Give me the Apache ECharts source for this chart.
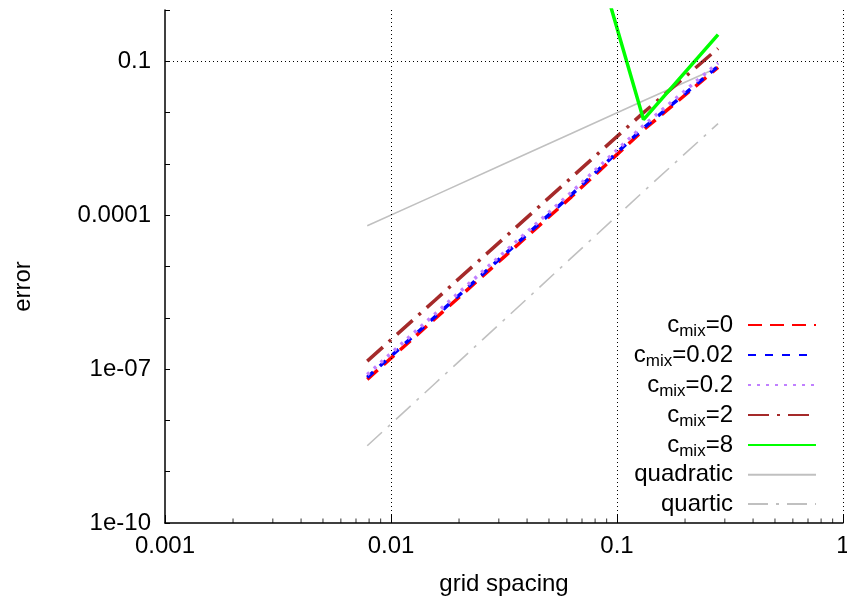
<!DOCTYPE html>
<html>
<head>
<meta charset="utf-8">
<script src="https://cdn.jsdelivr.net/npm/echarts@6/dist/echarts.min.js"></script>
<style>
html,body{margin:0;padding:0;background:#fff;}
#chart{width:847px;height:605px;}
</style>
</head>
<body>
<div id="chart"></div>
<script>
// ---- data ----
const gridSpacing = [0.00785, 0.0157, 0.0314, 0.0628, 0.131, 0.28];
const cmix0   = [6.3e-8, 9.7e-7, 1.49e-5, 2.28e-4, 4.6e-3, 0.076];
const cmix002 = [6.9e-8, 1.06e-6, 1.63e-5, 2.5e-4, 5.0e-3, 0.080];
const cmix02  = [7.8e-8, 1.2e-6, 1.83e-5, 2.8e-4, 5.6e-3, 0.093];
const cmix2   = [1.43e-7, 2.23e-6, 3.47e-5, 5.4e-4, 1.0e-2, 0.178];
const cmix8   = [null, null, null, 522, 7.3e-3, 0.33];
const quadratic = [6.2e-5, 2.46e-4, 9.8e-4, 3.9e-3, 0.0171, 0.076];
const quartic   = [3.2e-9, 5.3e-8, 8.8e-7, 1.47e-5, 2.9e-4, 6.1e-3];

const seriesNames = ['c_mix=0', 'c_mix=0.02', 'c_mix=0.2', 'c_mix=2', 'c_mix=8', 'quadratic', 'quartic'];

const xTickValues = [0.001, 0.01, 0.1, 1];
const xTickLabels = ['0.001', '0.01', '0.1', '1'];
const xMinorTicks = [0.002,0.003,0.004,0.005,0.006,0.007,0.008,0.009,
                     0.02,0.03,0.04,0.05,0.06,0.07,0.08,0.09,
                     0.2,0.3,0.4,0.5,0.6,0.7,0.8,0.9];
const yTickValues = [1e-10, 1e-7, 1e-4, 0.1];
const yTickLabels = ['1e-10', '1e-07', '0.0001', '0.1'];
const xGridValues = [0.01, 0.1, 1];
const yGridValues = [1e-7, 1e-4, 0.1];

// ---- chart ----
const FONT = '"Liberation Sans", Arial, Helvetica, sans-serif';
const FS = 24;
const xMin = 0.001, xMax = 1, yMin = 1e-10, yMax = 1;

function pairs(ys) {
  const out = [];
  ys.forEach((y, i) => { if (y != null) out.push([gridSpacing[i], y]); });
  return out;
}
function expOf(v) { return Math.round(Math.log10(v)); }

const styles = [
  {color: '#ff0000', width: 3.5, type: [14, 8]},
  {color: '#0000ff', width: 3.5, type: [8, 9]},
  {color: '#c080ff', width: 3.5, type: [3, 6]},
  {color: '#a52a2a', width: 3.5, type: [21, 8, 3, 8]},
  {color: '#00ff00', width: 3.5, type: 'solid'},
  {color: '#c0c0c0', width: 1.6, type: 'solid'},
  {color: '#c0c0c0', width: 1.6, type: [20, 8, 3, 8]}
];
const dataSets = [cmix0, cmix002, cmix02, cmix2, cmix8, quadratic, quartic];

const series = [];
// gridlines (dotted)
series.push({
  type: 'line', name: '_grid', data: [], silent: true, z: 1,
  markLine: {
    silent: true, symbol: 'none', animation: false,
    label: {show: false},
    lineStyle: {color: '#000', width: 1, type: [1, 3]},
    data: xGridValues.map(v => ({xAxis: v})).concat(yGridValues.map(v => ({yAxis: v})))
  }
});
// x minor ticks
series.push({
  type: 'scatter', name: '_xminor', silent: true, z: 5, clip: false,
  symbol: 'rect', symbolSize: [1, 4.5], symbolOffset: [0, -2.25],
  itemStyle: {color: '#000'},
  data: xMinorTicks.map(v => [v, yMin])
});
dataSets.forEach((d, i) => {
  series.push({
    type: 'line', name: seriesNames[i], data: pairs(d),
    symbol: 'none', showSymbol: false, z: 3 + (i < 5 ? 1 : 0),
    lineStyle: {color: styles[i].color, width: styles[i].width, type: styles[i].type, cap: 'butt'},
    itemStyle: {color: styles[i].color},
    emphasis: {disabled: true},
    animation: false
  });
});

const chart = echarts.init(document.getElementById('chart'), null, {renderer: 'canvas'});
chart.setOption({
  backgroundColor: '#fff',
  animation: false,
  textStyle: {fontFamily: FONT},
  grid: {left: 165, right: 4, top: 10, bottom: 82, containLabel: false, outerBoundsMode: 'none'},
  legend: {
    data: seriesNames,
    orient: 'vertical',
    align: 'right',
    right: 25,
    top: 305,
    itemWidth: 68,
    itemHeight: 14,
    itemGap: 0,
    selectedMode: false,
    itemStyle: {opacity: 0, borderWidth: 0},
    formatter: function (name) {
      if (name.indexOf('c_mix') === 0) {
        return '{c|c}{s|mix}{c|' + name.slice(5) + '}';
      }
      return '{c|' + name + '}';
    },
    textStyle: {
      padding: [0, 10, 0, 0],
      height: 29.4,
      lineHeight: 29.4,
      rich: {
        c: {fontSize: FS, fontFamily: FONT, color: '#000', lineHeight: 29.4},
        s: {fontSize: 17, fontFamily: FONT, color: '#000', lineHeight: 29.4, padding: [13, 0, 0, 0]}
      }
    }
  },
  xAxis: {
    type: 'log', logBase: 10, min: xMin, max: xMax, interval: 1,
    name: 'grid spacing', nameLocation: 'middle', nameGap: 49,
    nameTextStyle: {fontSize: FS, color: '#000', fontFamily: FONT},
    axisLine: {show: true, lineStyle: {color: '#000', width: 1.5}},
    axisTick: {show: true, inside: true, length: 8, lineStyle: {color: '#000'}},
    minorTick: {show: false},
    splitLine: {show: false},
    axisLabel: {
      fontSize: FS, color: '#000', margin: 11, fontFamily: FONT,
      formatter: function (v) {
        const i = xTickValues.findIndex(t => expOf(t) === expOf(v));
        return i >= 0 ? xTickLabels[i] : '';
      }
    }
  },
  yAxis: {
    type: 'log', logBase: 10, min: yMin, max: yMax, interval: 1,
    name: 'error', nameLocation: 'middle', nameGap: 130, nameRotate: 90,
    nameTextStyle: {fontSize: FS, color: '#000', fontFamily: FONT, padding: [0, 40, 0, 0]},
    axisLine: {show: true, lineStyle: {color: '#000', width: 1.5}},
    axisTick: {show: true, inside: true, length: 5, lineStyle: {color: '#000'}},
    splitLine: {show: false},
    axisLabel: {
      fontSize: FS, color: '#000', margin: 14, fontFamily: FONT,
      showMaxLabel: true,
      formatter: function (v) {
        const i = yTickValues.findIndex(t => expOf(t) === expOf(v));
        return i >= 0 ? yTickLabels[i] : '';
      }
    }
  },
  series: series
});
</script>
</body>
</html>
